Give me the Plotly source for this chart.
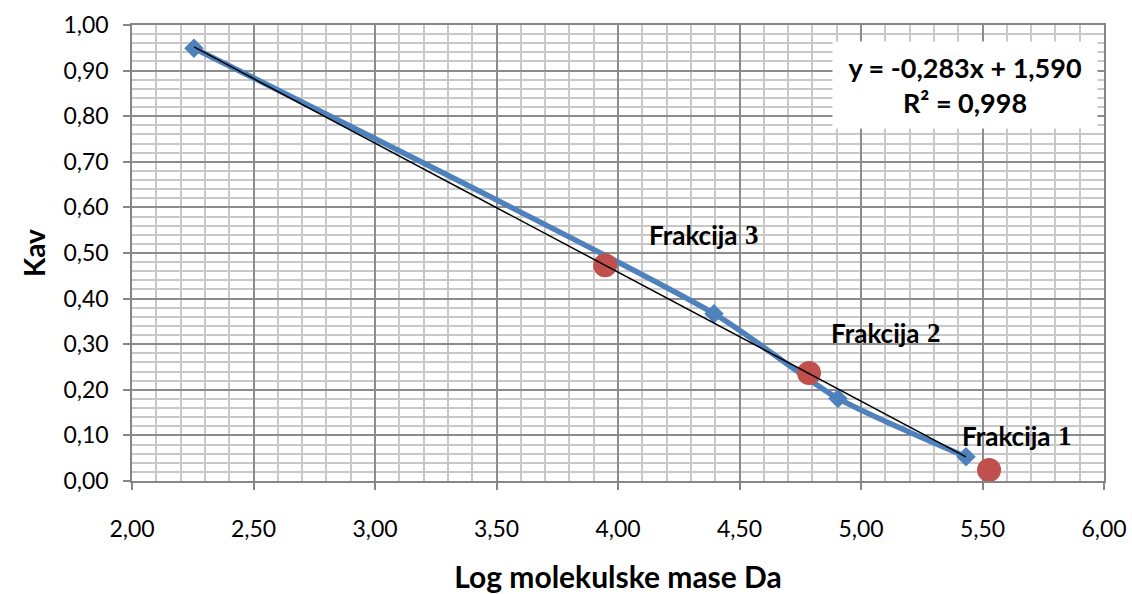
import plotly.graph_objects as go

# Standard series (blue, smoothed line with diamonds)
std_x = [2.255, 4.395, 4.905, 5.432]
std_y = [0.949, 0.367, 0.181, 0.053]

# Fractions (red circles)
frac_x = [3.947, 4.786, 5.527]
frac_y = [0.473, 0.237, 0.024]
frac_words = ["Frakcija", "Frakcija", "Frakcija"]
frac_nums = ["3", "2", "1"]
frac_label_x = [4.500, 5.250, 5.792]
frac_label_y = [0.540, 0.325, 0.099]

# Linear trendline coefficients
slope = -0.283
intercept = 1.590
r2 = 0.998
trend_x = [std_x[0], std_x[-1]]
trend_y = [slope * v + intercept for v in trend_x]

x_ticks = [2.0, 2.5, 3.0, 3.5, 4.0, 4.5, 5.0, 5.5, 6.0]
y_ticks = [0.0, 0.1, 0.2, 0.3, 0.4, 0.5, 0.6, 0.7, 0.8, 0.9, 1.0]

FONT = "Lato"
BLUE = "#4F81BD"
RED = "#C0504D"

fig = go.Figure()
fig.add_trace(go.Scatter(
    x=std_x, y=std_y, mode="lines+markers",
    line=dict(color=BLUE, width=5.5, shape="spline", smoothing=0.6),
    marker=dict(symbol="diamond", size=15, color=BLUE),
    showlegend=False, hoverinfo="skip"))
fig.add_trace(go.Scatter(
    x=frac_x, y=frac_y, mode="markers",
    marker=dict(symbol="circle", size=24, color=RED),
    showlegend=False, hoverinfo="skip"))
fig.add_trace(go.Scatter(
    x=trend_x, y=trend_y, mode="lines",
    line=dict(color="black", width=1.5),
    showlegend=False, hoverinfo="skip"))

for word, num, lx, ly in zip(frac_words, frac_nums, frac_label_x, frac_label_y):
    fig.add_annotation(
        x=lx, y=ly, xref="x", yref="y", showarrow=False, xanchor="right",
        text=f"<b>{word}</b>",
        font=dict(family=FONT, size=26, color="black"))
    fig.add_annotation(
        x=lx, y=ly, xref="x", yref="y", showarrow=False, xanchor="left", xshift=3,
        text=f"<b>{num}</b>",
        font=dict(family="Liberation Serif", size=27, color="black"))

eq_text = f"<b>y = {slope:.3f}x + {intercept:.3f}</b><br><b>R² = {r2:.3f}</b>".replace(".", ",")
fig.add_annotation(
    x=5.43, y=0.869, xref="x", yref="y", showarrow=False,
    text=eq_text,
    font=dict(family=FONT, size=27, color="black"),
    bgcolor="white", width=262, height=84, align="center")

axis_common = dict(
    showline=True, linecolor="#868686", linewidth=1.5, mirror=True,
    ticks="outside", ticklen=7, tickcolor="#868686", tickwidth=1.5,
    gridcolor="#8c8c8c", gridwidth=1.5, zeroline=False, automargin=False,
    tickfont=dict(family=FONT, size=23, color="black"),
)

fig.update_layout(
    width=1132, height=594,
    margin=dict(l=132, r=28, t=25, b=113),
    paper_bgcolor="white", plot_bgcolor="white",
    separators=", ",
    xaxis=dict(
        range=[2, 6], tickvals=x_ticks, tickformat=".2f",
        ticklabelstandoff=20,
        minor=dict(dtick=0.1, showgrid=True, gridcolor="#c8c8c8", gridwidth=1.5, ticks=""),
        title=dict(text="<b>Log molekulske mase Da</b>", font=dict(family=FONT, size=30, color="black"), standoff=29),
        **axis_common),
    yaxis=dict(
        range=[0, 1], tickvals=y_ticks, tickformat=".2f",
        ticklabelstandoff=10,
        minor=dict(dtick=0.02, showgrid=True, gridcolor="#c8c8c8", gridwidth=1.5, ticks=""),
        title=dict(text="<b>Kav</b>", font=dict(family=FONT, size=28, color="black"), standoff=10),
        **axis_common),
)

fig.write_html("out.html")
